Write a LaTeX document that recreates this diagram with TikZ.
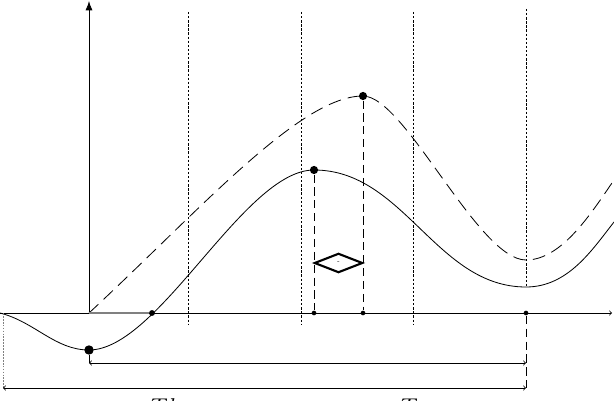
\documentclass[tikz,border=0pt]{standalone}
\usetikzlibrary{arrows,arrows.meta,shapes.geometric,calc}
\begin{document}
\begin{tikzpicture}[x=0.03cm,y=-0.03cm,line width=.7pt,
    dot/.style={circle,fill,inner sep=0pt,minimum size=5pt},
    grid/.style={line width=.6pt,dash pattern=on 2pt off 1.5pt},
    longdash/.style={dash pattern=on 11pt off 6pt},
    vdash/.style={dash pattern=on 7pt off 4pt}]
    \useasboundingbox (0,0) rectangle (614,401);
    % axes
    \coordinate (xl) at (0,313);
    \coordinate (xr) at (612,313);
    \coordinate (o) at (89,313);
    \coordinate (yt) at (89,1);
    \draw[->,>=to] (xl) -- (xr);
    \draw[-{Latex[length=8pt,width=6pt]}] (o) -- (yt);
    \foreach \x in {188,301,413} \draw[grid] (\x,12) -- (\x,325);
    \draw[grid] (526,9) -- (526,287);
    % curves
    \draw (0,313) .. controls (35,322) and (55,350) .. (89,350)
        .. controls (159,350) and (244,170) .. (314,170)
        .. controls (404,170) and (436,287) .. (526,287)
        .. controls (568,287) and (592,250) .. (614,222);
    \draw[longdash] (89,313) .. controls (200,210) and (300,96) .. (363,96)
        .. controls (405,96) and (478,260) .. (526,260)
        .. controls (562,260) and (592,212) .. (614,180);
    % points
    \node[dot,minimum size=8pt] (m) at (89,350) {};
    \node[dot] (z) at (152,313) {};
    \node[dot,minimum size=7pt] (p1) at (314,170) {};
    \node[dot,minimum size=7pt] (p2) at (363,96) {};
    \node[dot,minimum size=4pt] (a1) at (314,313) {};
    \node[dot,minimum size=4pt] (a2) at (363,313) {};
    \node[dot,minimum size=4pt] (e) at (526,313) {};
    \draw[gray,line width=1.2pt] (o) -- (z);
    \draw[vdash] (p1) -- (a1) (p2) -- (a2);
    \node[diamond,draw,line width=1.8pt,inner sep=0pt,minimum width=1.45cm,minimum height=.58cm] (d) at (338.5,263) {};
    \node[font=\tiny] at (d) {-};
    % spans
    \coordinate (s1) at (89,363);
    \coordinate (s2) at (526,363);
    \coordinate (t1) at (3,388);
    \coordinate (t2) at (526,390);
    \draw[vdash] (m) -- (s1) (e) -- (t2);
    \draw[gray,line width=.4pt,dash pattern=on 1.5pt off 1pt] (3,313) -- (t1);
    \draw[<->,>=to] (s1) -- (s2);
    \draw[<->,>=to] (t1) -- (526,388);
    \node[anchor=north west,inner sep=0pt,font=\huge] at (150,398.5) {$Tk$};
    \node[anchor=north west,inner sep=0pt,font=\huge] at (400,398.5) {$T$};
\end{tikzpicture}
\end{document}
